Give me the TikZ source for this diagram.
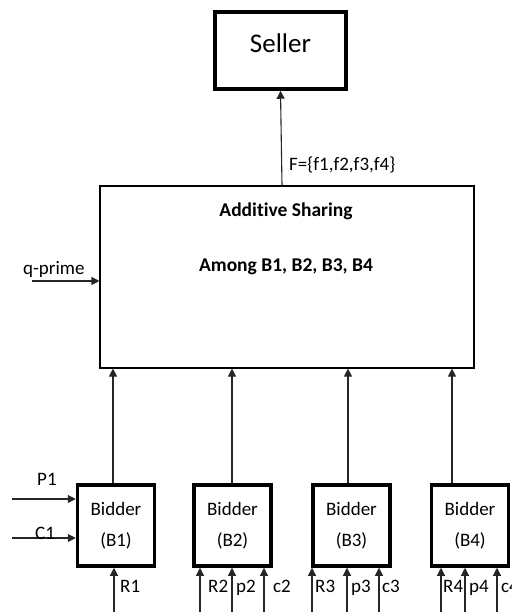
\documentclass[tikz,border=0pt]{standalone}
\usepackage{fontspec}
\setmainfont{Carlito}[Ligatures=CommonOff]
\usetikzlibrary{arrows.meta}

\begin{document}
\begin{tikzpicture}[x=1pt, y=-1pt,
  every node/.style={inner sep=0pt, font=\fontsize{19}{31}\selectfont},
  seller/.style={draw, line width=3.5pt, minimum width=131pt, minimum height=77pt,
    text depth=15pt, font=\fontsize{27}{30}\selectfont},
  share/.style={draw, line width=1.1pt, minimum width=374pt, minimum height=182pt},
  head/.style={anchor=base, font=\fontsize{19.5}{24}\selectfont\bfseries},
  bidder/.style={draw, line width=3.5pt, minimum width=77pt, minimum height=81pt, align=center},
  arr/.style={-{Triangle[length=8pt,width=8pt]}, line width=1.1pt, draw=black!85},
  lbl/.style={anchor=base west}
]
\useasboundingbox (0,0) rectangle (511,612);

% seller and the sharing block
\node[seller] (seller) at (280.5,50.5) {Seller};
\node[share] (share) at (287,277) {};
\node[head] (t1) at (286,217) {Additive Sharing};
\node[head] (t2) at (286,271) {Among B1, B2, B3, B4};

\draw[arr] ([xshift=1.5pt]share.north -| seller.south) -- (seller.south);
\node[lbl] (F) at (289,171) {F=\{f1,f2,f3,f4\}};

\coordinate (q) at (32,281);
\draw[arr] (q) -- (q -| share.west);
\node[lbl] (ql) at (23,274) {q-prime};

% bidders
\node[bidder] (b1) at (116,525.5) {Bidder\\(B1)};
\node[bidder] (b2) at (232.5,525.5) {Bidder\\(B2)};
\node[bidder] (b3) at (351.5,525.5) {Bidder\\(B3)};
\node[bidder] (b4) at (470,525.5) {Bidder\\(B4)};

\draw[arr] ([xshift=-3pt]b1.north) -- ([xshift=-3pt]b1.north |- share.south);
\draw[arr] ([xshift=-0.5pt]b2.north) -- ([xshift=-0.5pt]b2.north |- share.south);
\draw[arr] ([xshift=-3.5pt]b3.north) -- ([xshift=-3.5pt]b3.north |- share.south);
\draw[arr] ([xshift=-18pt]b4.north) -- ([xshift=-18pt]b4.north |- share.south);

% inputs of B1
\coordinate (p1) at (12,499);
\coordinate (c1) at (12,538);
\draw[arr] (p1) -- (p1 -| b1.west);
\draw[arr] (c1) -- (c1 -| b1.west);
\node[lbl] (lp1) at (37,485) {P1};
\node[lbl] (lc1) at (35,539) {C1};

% inputs from below
\coordinate (r1) at (114,612);
\coordinate (r2) at (200,612);
\coordinate (pp2) at (232,612);
\coordinate (cc2) at (264,612);
\coordinate (r3) at (312,612);
\coordinate (pp3) at (347,612);
\coordinate (cc3) at (379,612);
\coordinate (r4) at (441,612);
\coordinate (pp4) at (465,612);
\coordinate (cc4) at (497,612);

\draw[arr] (r1) -- (r1 |- b1.south);
\draw[arr] (r2) -- (r2 |- b2.south);
\draw[arr] (pp2) -- (pp2 |- b2.south);
\draw[arr] (cc2) -- (cc2 |- b2.south);
\draw[arr] (r3) -- (r3 |- b3.south);
\draw[arr] (pp3) -- (pp3 |- b3.south);
\draw[arr] (cc3) -- (cc3 |- b3.south);
\draw[arr] (r4) -- (r4 |- b4.south);
\draw[arr] (pp4) -- (pp4 |- b4.south);
\draw[arr] (cc4) -- (cc4 |- b4.south);

\node[lbl] (lr1) at (120,592) {R1};
\node[lbl] (lr2) at (208,592) {R2};
\node[lbl] (lp2) at (236,592) {p2};
\node[lbl] (lc2) at (273,592) {c2};
\node[lbl] (lr3) at (315,592) {R3};
\node[lbl] (lp3) at (351,592) {p3};
\node[lbl] (lc3) at (382,592) {c3};
\node[lbl] (lr4) at (443,592) {R4};
\node[lbl] (lp4) at (469,592) {p4};
\node[lbl] (lc4) at (501,592) {c4};
\end{tikzpicture}
\end{document}
